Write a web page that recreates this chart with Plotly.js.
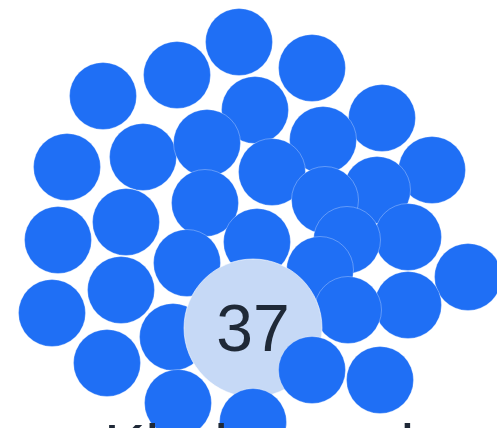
<!DOCTYPE html>
<html>
<head>
<meta charset="utf-8">
<script src="https://cdn.plot.ly/plotly-3.0.1.min.js"></script>
<style>html,body{margin:0;padding:0;background:#fff;}#chart{width:497px;height:428px;}</style>
</head>
<body>
<div id="chart"></div>
<script>
// Bubbles behind the highlighted one
const backX = [239, 177, 312, 103, 255, 382, 67, 143, 207, 323, 432, 272, 377, 325, 205, 126, 58, 408, 257, 347, 187, 468, 320, 121, 52, 408, 348, 173, 107];
const backY = [42, 75, 68, 96, 110, 118, 167, 157, 143, 140, 170, 172, 190, 200, 203, 222, 240, 237, 242, 240, 263, 277, 270, 290, 313, 305, 310, 337, 363];
// Bubbles in front of the highlighted one
const frontX = [312, 380, 178, 253, 325];
const frontY = [370, 380, 403, 422, 432];
// Highlighted bubble
const hiX = [253];
const hiY = [328];
const hiLabel = ["37"];
// Category name below the cluster
const catName = "Khabarovsk";
const catX = 268;

const BLUE = "#1f6ff5";
const LIGHT = "#c6d9f6";

const traces = [
  {
    type: "scatter", mode: "markers", x: backX, y: backY, hoverinfo: "skip",
    marker: {size: 67, color: BLUE, line: {color: "rgba(255,255,255,0.5)", width: 0.6}}
  },
  {
    type: "scatter", mode: "markers", x: hiX, y: hiY, hoverinfo: "skip",
    marker: {size: 138, color: LIGHT, line: {color: "rgba(255,255,255,0.6)", width: 1}}
  },
  {
    type: "scatter", mode: "markers", x: frontX, y: frontY, hoverinfo: "skip",
    marker: {size: 67, color: BLUE, line: {color: "rgba(255,255,255,0.5)", width: 0.6}}
  },
  {
    type: "scatter", mode: "text", x: hiX, y: hiY.map(v => v + 6), text: hiLabel,
    textposition: "middle center", hoverinfo: "skip", cliponaxis: false,
    textfont: {family: "Liberation Sans, Arial, sans-serif", size: 66, color: "#1f2937"}
  }
];

const layout = {
  width: 497, height: 428,
  margin: {l: 0, r: 0, t: 0, b: 0},
  paper_bgcolor: "#ffffff", plot_bgcolor: "#ffffff",
  showlegend: false,
  xaxis: {range: [0, 497], visible: false, fixedrange: true},
  yaxis: {range: [428, 0], visible: false, fixedrange: true},
  dragmode: false,
  annotations: [{
    text: catName, x: catX, xref: "x", y: 0, yref: "paper",
    xanchor: "center", yanchor: "top", yshift: 19, showarrow: false,
    font: {family: "Liberation Sans, Arial, sans-serif", size: 62, color: "#1f2937"}
  }]
};

Plotly.newPlot("chart", traces, layout, {staticPlot: true, displayModeBar: false});
</script>
</body>
</html>
